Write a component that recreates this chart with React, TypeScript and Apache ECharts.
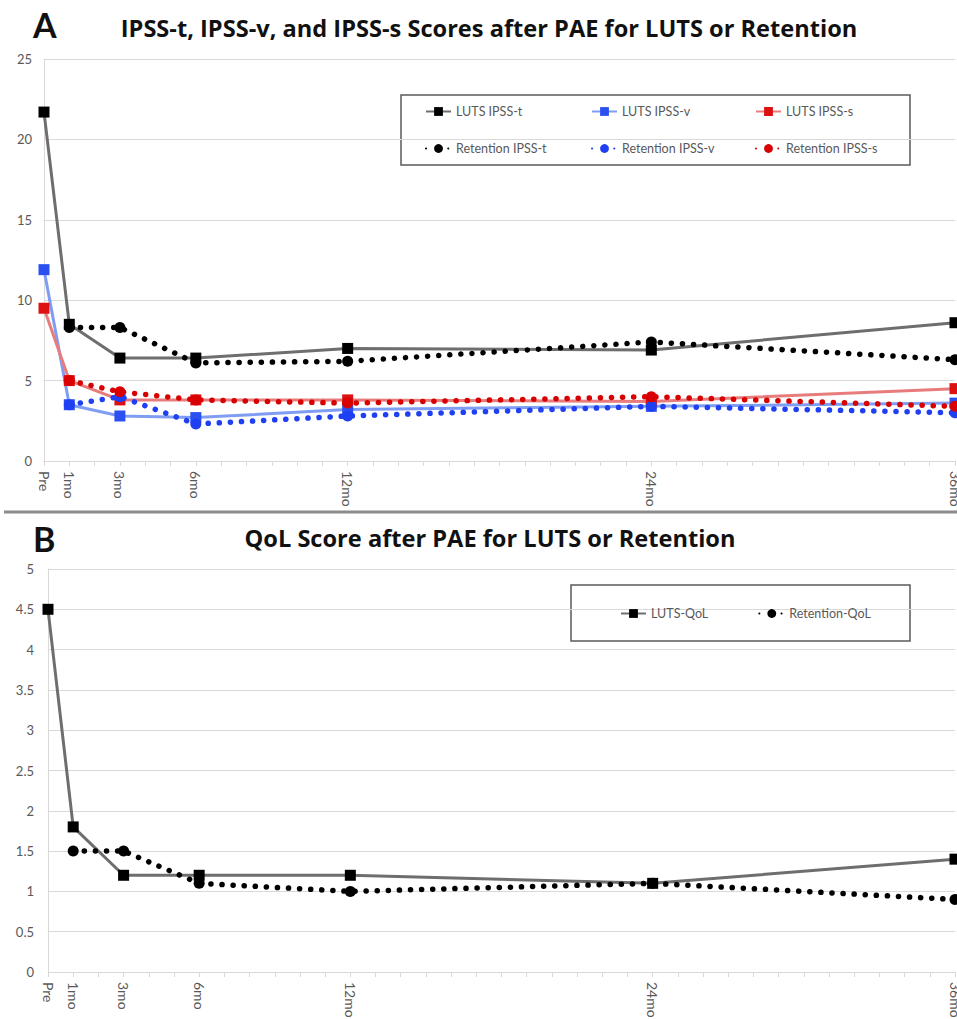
import React, { useEffect, useRef } from "react";
import * as echarts from "echarts";

const months = [0, 1, 3, 6, 12, 24, 36];
const tickLabels = ["Pre", "1mo", "3mo", "6mo", "12mo", "24mo", "36mo"];

const lutsIpssT = [21.7, 8.5, 6.4, 6.4, 7.0, 6.9, 8.6];
const lutsIpssV = [11.9, 3.5, 2.8, 2.7, 3.2, 3.4, 3.6];
const lutsIpssS = [9.5, 5.0, 3.8, 3.8, 3.8, 3.7, 4.5];
const retIpssT = [null, 8.3, 8.3, 6.1, 6.2, 7.4, 6.3];
const retIpssV = [null, 3.5, 4.0, 2.3, 2.8, 3.4, 3.0];
const retIpssS = [null, 5.0, 4.3, 3.8, 3.6, 4.0, 3.4];

const lutsQoL = [4.5, 1.8, 1.2, 1.2, 1.2, 1.1, 1.4];
const retQoL = [null, 1.5, 1.5, 1.1, 1.0, 1.1, 0.9];

const titleA = "IPSS-t, IPSS-v, and IPSS-s Scores after PAE for LUTS or Retention";
const titleB = "QoL Score after PAE for LUTS or Retention";

const pairs = (vals: (number | null)[]) =>
  months.map((m, i) => [m, vals[i]]).filter((p) => p[1] !== null);

const FONT = "Lato, 'Open Sans', sans-serif";
const TITLE_FONT = "'Open Sans', Lato, sans-serif";
const AXIS_GRAY = "#d9d9d9";
const LABEL_GRAY = "#595959";

function lutsSeries(name: string, vals: (number | null)[], lineColor: string, markColor: string, idx: number) {
  return {
    name,
    type: "line",
    xAxisIndex: idx,
    yAxisIndex: idx,
    data: pairs(vals),
    symbol: "rect",
    symbolSize: 11,
    itemStyle: { color: markColor },
    lineStyle: { color: lineColor, width: 3 },
    z: 3,
  };
}

function retSeries(name: string, vals: (number | null)[], color: string, idx: number) {
  return {
    name,
    type: "line",
    xAxisIndex: idx,
    yAxisIndex: idx,
    data: pairs(vals),
    symbol: "circle",
    symbolSize: 11,
    itemStyle: { color },
    lineStyle: { color, width: 5.5, type: [0.1, 11], cap: "round" },
    z: 4,
  };
}

function xAxis(gridIndex: number) {
  return {
    type: "value",
    gridIndex,
    min: 0,
    max: 36,
    interval: 1,
    axisLine: { show: true, lineStyle: { color: AXIS_GRAY, width: 1 } },
    axisTick: { show: true, length: 5, lineStyle: { color: AXIS_GRAY } },
    splitLine: { show: false },
    axisLabel: {
      rotate: -90,
      color: LABEL_GRAY,
      fontFamily: FONT,
      fontSize: 14,
      margin: 10,
      showMaxLabel: true,
      showMinLabel: true,
      formatter: (v: number) => {
        const i = months.indexOf(v);
        return i >= 0 ? tickLabels[i] : "";
      },
    },
  };
}

function yAxis(gridIndex: number, max: number, interval: number, margin: number) {
  return {
    type: "value",
    gridIndex,
    min: 0,
    max,
    interval,
    axisLine: { show: true, lineStyle: { color: AXIS_GRAY, width: 1 } },
    axisTick: { show: false },
    splitLine: { show: true, lineStyle: { color: AXIS_GRAY, width: 1 } },
    axisLabel: { color: LABEL_GRAY, fontFamily: FONT, fontSize: 13, margin },
  };
}

const legendText = { color: LABEL_GRAY, fontFamily: FONT, fontSize: 12.5 };

export default function App() {
  const ref = useRef<HTMLDivElement>(null);
  useEffect(() => {
    if (!ref.current) return;
    const chart = echarts.init(ref.current, null, { renderer: "svg" });
    chart.setOption({
      animation: false,
      backgroundColor: "#ffffff",
      grid: [
        { left: 44, right: 2, top: 59, height: 402, containLabel: false, outerBoundsMode: "none" },
        { left: 48, right: 2, top: 569, height: 403, containLabel: false, outerBoundsMode: "none" },
      ],
      xAxis: [xAxis(0), xAxis(1)],
      yAxis: [yAxis(0, 25, 5, 12), yAxis(1, 5, 0.5, 14)],
      legend: [
        {
          orient: "vertical",
          left: 420,
          top: 100,
          itemGap: 24,
          itemWidth: 25,
          itemHeight: 11,
          textStyle: legendText,
          data: ["LUTS IPSS-t", "Retention IPSS-t"],
        },
        {
          orient: "vertical",
          left: 586,
          top: 100,
          itemGap: 24,
          itemWidth: 25,
          itemHeight: 11,
          textStyle: legendText,
          data: ["LUTS IPSS-v", "Retention IPSS-v"],
        },
        {
          orient: "vertical",
          left: 750,
          top: 100,
          itemGap: 24,
          itemWidth: 25,
          itemHeight: 11,
          textStyle: legendText,
          data: ["LUTS IPSS-s", "Retention IPSS-s"],
        },
        {
          orient: "horizontal",
          left: 615,
          top: 602,
          itemGap: 50,
          itemWidth: 25,
          itemHeight: 11,
          textStyle: legendText,
          data: ["LUTS-QoL", "Retention-QoL"],
        },
      ],
      graphic: [
        {
          type: "text",
          left: 33,
          top: 7,
          style: { text: "A", font: `bold 34px ${FONT}`, fill: "#111" },
        },
        {
          type: "text",
          x: 489,
          y: 28,
          style: {
            text: titleA,
            font: `bold 23.6px ${TITLE_FONT}`,
            fill: "#111",
            textAlign: "center",
            textVerticalAlign: "middle",
          },
        },
        {
          type: "text",
          left: 33,
          top: 521,
          style: { text: "B", font: `bold 34px ${FONT}`, fill: "#111" },
        },
        {
          type: "text",
          x: 490,
          y: 538,
          style: {
            text: titleB,
            font: `bold 23.6px ${TITLE_FONT}`,
            fill: "#111",
            textAlign: "center",
            textVerticalAlign: "middle",
          },
        },
        {
          type: "line",
          shape: { x1: 4, y1: 512, x2: 957, y2: 512 },
          style: { stroke: "#8c8c8c", lineWidth: 3 },
        },
        {
          type: "rect",
          shape: { x: 401, y: 95, width: 509, height: 70 },
          style: { fill: "none", stroke: "#595959", lineWidth: 1.5 },
          z: -1,
        },
        {
          type: "rect",
          shape: { x: 571, y: 585, width: 339, height: 56 },
          style: { fill: "none", stroke: "#595959", lineWidth: 1.5 },
          z: -1,
        },
      ],
      series: [
        lutsSeries("LUTS IPSS-t", lutsIpssT, "#6e6e6e", "#000000", 0),
        lutsSeries("LUTS IPSS-v", lutsIpssV, "#7f9df2", "#2a50f0", 0),
        lutsSeries("LUTS IPSS-s", lutsIpssS, "#e87c7c", "#dd1111", 0),
        retSeries("Retention IPSS-t", retIpssT, "#000000", 0),
        retSeries("Retention IPSS-v", retIpssV, "#1f3ff2", 0),
        retSeries("Retention IPSS-s", retIpssS, "#d80000", 0),
        lutsSeries("LUTS-QoL", lutsQoL, "#6e6e6e", "#000000", 1),
        retSeries("Retention-QoL", retQoL, "#000000", 1),
      ],
    });
    return () => chart.dispose();
  }, []);
  return (
    <div
      ref={ref}
      style={{ position: "fixed", left: 0, top: 0, width: 957, height: 1019 }}
    />
  );
}
